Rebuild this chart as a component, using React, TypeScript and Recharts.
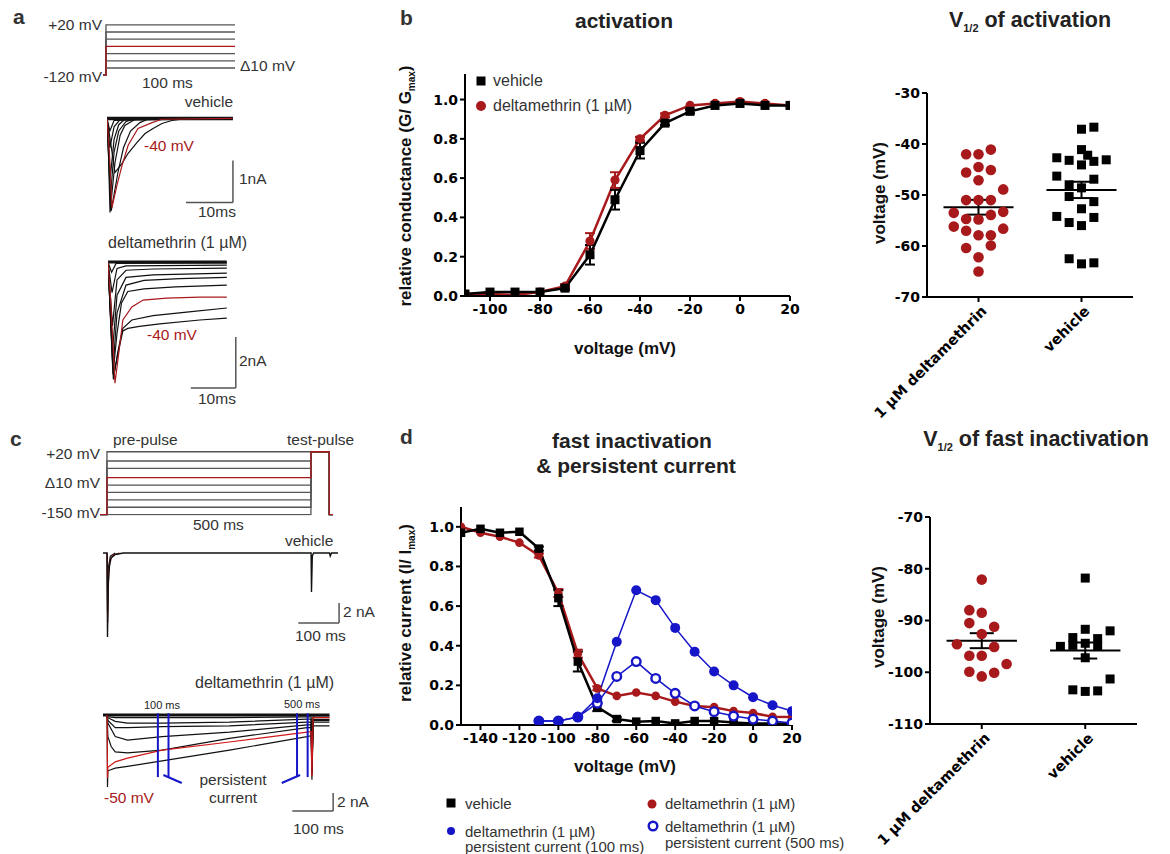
import React from "react";
import {
  LineChart,
  ComposedChart,
  ScatterChart,
  Line,
  Scatter,
  XAxis,
  YAxis,
  ErrorBar,
  ReferenceLine,
} from "recharts";

const SANS = '"Liberation Sans", Arial, sans-serif';
const TICK_FONT = '"DejaVu Sans", sans-serif';
const RED = "#a8191b";
const BLUE = "#1616c8";
const INK = "#333333";

// ---------- b: activation ----------
const actVoltage = [-110, -100, -90, -80, -70, -60, -50, -40, -30, -20, -10, 0, 10, 20];
const actVehicle = [0.01, 0.02, 0.02, 0.02, 0.04, 0.21, 0.49, 0.74, 0.88, 0.94, 0.97, 0.98, 0.97, 0.97];
const actVehicleErr = [0, 0, 0, 0, 0.01, 0.05, 0.05, 0.04, 0.01, 0.01, 0, 0, 0, 0];
const actDelta = [0.01, 0.01, 0.005, 0.02, 0.05, 0.28, 0.59, 0.8, 0.92, 0.97, 0.98, 0.99, 0.98, 0.97];
const actDeltaErr = [0, 0, 0, 0, 0.01, 0.04, 0.04, 0.01, 0.01, 0, 0, 0, 0, 0];

// ---------- d: fast inactivation & persistent current ----------
const inactVoltage = [-150, -140, -130, -120, -110, -100, -90, -80, -70, -60, -50, -40, -30, -20, -10, 0, 10, 20];
const inactVehicle = [0.97, 0.99, 0.97, 0.975, 0.89, 0.64, 0.32, 0.09, 0.03, 0.017, 0.02, 0.008, 0.02, 0.02, 0.013, 0.008, 0.008, 0.008];
const inactVehicleErr = [0, 0, 0, 0, 0.01, 0.04, 0.05, 0.02, 0.01, 0, 0, 0, 0, 0, 0, 0, 0, 0];
const inactDelta = [1.0, 0.97, 0.95, 0.92, 0.855, 0.666, 0.36, 0.185, 0.147, 0.164, 0.147, 0.118, 0.096, 0.09, 0.07, 0.06, 0.042, 0.04];
const inactDeltaErr = [0, 0, 0, 0, 0.01, 0.02, 0.02, 0.01, 0, 0, 0, 0, 0, 0, 0, 0, 0, 0];
const persistVoltage = [-110, -100, -90, -80, -70, -60, -50, -40, -30, -20, -10, 0, 10, 20];
const persist100 = [0.02, 0.02, 0.04, 0.135, 0.42, 0.68, 0.63, 0.49, 0.37, 0.27, 0.2, 0.14, 0.1, 0.07];
const persist500 = [0.02, 0.02, 0.04, 0.11, 0.245, 0.32, 0.235, 0.16, 0.096, 0.067, 0.045, 0.03, 0.02, 0.01];

// ---------- V1/2 scatter panels ----------
const groupNames = ["1 µM deltamethrin", "vehicle"];
const JIT = 0.12;
const MEAN_HALF = 0.34;

const actV12Delta = [-42, -42, -41.1, -45.6, -44.5, -45.1, -47.1, -48.9, -51, -51, -51, -53.5, -53.3, -54.7, -54.8, -53.9, -56.2, -56.6, -57, -57.9, -57.9, -60.4, -59.9, -62.2, -65];
const actV12DeltaCol = [-1, 0, 1, -1, 0, 1, 0, 2, -1, 0, 1, -2, 2, -1, 0, 1, -2, 2, -1, 0, 1, -1, 1, 0, 0];
const actV12Vehicle = [-37.1, -36.7, -42.7, -43.2, -41.1, -42.2, -44.1, -43.4, -43.1, -46.3, -48, -48.6, -46.9, -50.3, -51.3, -52.7, -54.2, -55.4, -56, -54.4, -62.5, -63.5, -63.3];
const actV12VehicleCol = [0, 1, -2, -1, 0, 0.5, 0, 1, 2, -2, -1, 0, 1, -1, 1, 0, -2, -1, 0, 1, -1, 0, 1];
const actV12Mean = [-52.4, -49.0];
const actV12Sem = [1.45, 1.6];

const inactV12Delta = [-82.1, -88, -88.5, -90.5, -91.2, -92.6, -94.6, -95.1, -96.8, -96.8, -98.4, -99.9, -100.1, -100.8];
const inactV12DeltaCol = [0, -1, 0, -1, 1, 0, -2, 1, -1, 0, 2, -1, 1, 0];
const inactV12Vehicle = [-81.8, -91.7, -92, -93.3, -93.5, -95, -94.8, -94.4, -95, -97.2, -101.3, -103.4, -103.7, -103.6];
const inactV12VehicleCol = [0, 0, 2, -1, 1, -2, -1, 0, 1, 0, 2, -1, 0, 1];
const inactV12Mean = [-93.9, -95.8];
const inactV12Sem = [1.45, 1.55];

// ---------- a / c: protocols and current traces ([time ms, value]) ----------
type Pt = [number, number];
const protoALevels = [20, 0, -20, -40, -60, -80, -100];
const protoAHold = -120;
const protoARed = -40;
const protoCLevels = [20, -5, -25, -50, -70, -90, -110, -130, -150];
const protoCHold = -150;
const protoCRed = -50;

const vehA1: Pt[] = [[0, 0], [0.3, -0.8], [0.64, -2.24], [1.7, -1.05], [2.8, -0.4], [3.8, -0.17], [6, -0.02], [26.8, 0]];
const vehA2: Pt[] = [[0, 0], [0.7, -1.9], [1.5, -0.8], [2.5, -0.3], [4, -0.08], [6, 0], [26.8, 0]];
const vehA3: Pt[] = [[0, 0], [0.7, -1.4], [1.5, -0.5], [2.5, -0.15], [4, 0], [26.8, 0]];
const vehA4: Pt[] = [[0, 0], [0.6, -0.7], [1.5, -0.2], [3, 0], [26.8, 0]];
const vehA5: Pt[] = [[0, 0], [0.6, -0.3], [1.5, -0.05], [26.8, 0]];
const vehA6: Pt[] = [[0, 0], [0.9, -2.2], [2.3, -1.3], [3.5, -0.7], [5, -0.3], [7, -0.1], [9, 0], [26.8, 0]];
const vehASlow: Pt[] = [[0, 0], [0.8, -0.6], [1.7, -1.29], [3.2, -1.07], [4.5, -0.83], [6.4, -0.57], [8.1, -0.36], [9.8, -0.24], [11.7, -0.12], [13.8, -0.05], [17, 0], [26.8, 0]];
const vehARed: Pt[] = [[0, 0], [0.5, -0.8], [1.06, -2.12], [2.1, -1.6], [3.2, -1.12], [4.5, -0.64], [6.6, -0.24], [9.6, -0.1], [11.7, -0.02], [26.8, 0]];
const vehABase: Pt[] = [[0, 0], [26.8, 0]];

const delA0: Pt[] = [[0, 0], [0.8, -0.4], [1.8, -0.05], [26.4, -0.03]];
const delA1: Pt[] = [[0, 0], [0.9, -1.2], [2, -0.25], [4, -0.15], [26.4, -0.12]];
const delA2: Pt[] = [[0, 0], [1.0, -2.5], [2, -0.7], [4, -0.32], [10, -0.27], [26.4, -0.24]];
const delA3: Pt[] = [[0, 0], [1.0, -3.5], [2, -1.3], [4, -0.6], [10, -0.5], [26.4, -0.43]];
const delA4: Pt[] = [[0, 0], [1.1, -4.2], [2, -2.0], [4, -0.9], [8, -0.72], [16, -0.65], [26.4, -0.6]];
const delA5: Pt[] = [[0, 0], [1.1, -4.4], [2, -2.8], [3, -1.6], [4.4, -1.15], [8, -1.05], [15, -0.97], [26.4, -0.9]];
const delA6: Pt[] = [[0, 0], [1.2, -4.6], [2.2, -3.5], [3.3, -2.6], [5.3, -2.27], [10, -2.1], [18, -1.95], [26.4, -1.8]];
const delA7: Pt[] = [[0, 0], [1.3, -4.4], [2.2, -3.6], [3.3, -2.7], [4.4, -2.6], [7, -2.52], [11.5, -2.42], [20.4, -2.27], [26.4, -2.2]];
const delARed: Pt[] = [[0, 0], [0.6, -1.5], [1.55, -4.75], [2.2, -3.84], [3.3, -2.27], [5.3, -1.76], [7.8, -1.49], [13, -1.41], [20.4, -1.37], [26.4, -1.37]];
const delABase: Pt[] = [[0, 0], [26.4, 0]];

const vehC1: Pt[] = [[-10, 0], [0, 0], [1, -8.4], [3, -3], [6, -1.2], [10, -0.5], [20, -0.15], [40, 0], [500, 0], [501, -3.9], [503, -0.3], [506, 0], [545, 0], [547, -0.3], [550, 0], [566, 0]];
const vehC2: Pt[] = [[0, 0], [1, -6], [3, -1.5], [8, -0.3], [20, 0]];
const vehCRed: Pt[] = [[0, 0], [1.5, -7], [4, -2], [8, -0.6], [15, -0.2], [30, 0]];

const delC1: Pt[] = [[0, 0], [2, -0.2], [20, -0.3], [135, -0.3], [300, -0.3], [490, -0.2], [500, -0.2], [502, -5], [505, -0.1], [545, -0.1]];
const delC2: Pt[] = [[0, 0], [2, -0.3], [20, -0.7], [50, -0.9], [135, -0.9], [300, -0.8], [490, -0.45], [500, -0.45], [502, -5.5], [505, -0.3], [545, -0.3]];
const delC3: Pt[] = [[0, 0], [2, -0.6], [20, -1.4], [50, -1.4], [135, -1.3], [300, -1.2], [490, -0.8], [500, -0.8], [502, -6], [505, -0.5], [545, -0.5]];
const delC4: Pt[] = [[0, 0], [2, -0.9], [20, -2.4], [50, -2.8], [135, -2.4], [300, -1.9], [490, -1.1], [500, -1.1], [502, -6.2], [505, -0.6], [545, -0.6]];
const delCKnee: Pt[] = [[0, 0], [2, -2.4], [10, -3.5], [20, -4.1], [50, -4.2], [135, -3.9], [300, -2.6], [490, -1.4], [500, -1.4], [502, -6.5], [505, -0.8], [545, -0.8]];
const delC7: Pt[] = [[-10, 0], [0, 0], [1, -8], [2, -6.2], [20, -5.9], [50, -5.7], [135, -5.1], [300, -3.9], [490, -2.4], [500, -2.3], [502, -7.2], [505, -1.2], [545, -1.2]];
const delCRed: Pt[] = [[0, 0], [1, -7], [2, -5.8], [20, -5.2], [50, -4.8], [135, -3.9], [300, -3.0], [490, -1.9], [500, -1.85], [502, -6.8], [505, -0.3], [545, -0.3]];
const delCBase: Pt[] = [[-10, 0], [545, 0]];

// ---------- helpers ----------
const AXIS = { stroke: "#000", strokeWidth: 2 };
const TICK = { fill: "#000", fontSize: 14, fontWeight: 700, fontFamily: TICK_FONT };

const rows = (xs: number[], ys: number[], es?: number[]) => xs.map((v, i) => ({ v, y: ys[i], e: es ? es[i] : 0 }));

const squareDot = (size: number, color: string) => (p: any) =>
  p.cx == null ? <g key={`s${p.index}`} /> : (
    <rect key={`s${p.index}`} x={p.cx - size / 2} y={p.cy - size / 2} width={size} height={size} fill={color} />
  );
const circleDot = (r: number, color: string, open = false) => (p: any) =>
  p.cx == null ? <g key={`c${p.index}`} /> : (
    <circle key={`c${p.index}`} cx={p.cx} cy={p.cy} r={r} fill={open ? "#fff" : color} stroke={color} strokeWidth={open ? 2.4 : 0} />
  );

interface ITxt {
  x: number;
  y: number;
  size?: number;
  color?: string;
  bold?: boolean;
  anchor?: "start" | "middle" | "end";
  children: React.ReactNode;
}
const Txt: React.FC<ITxt> = ({ x, y, size = 15.5, color = INK, bold = false, anchor = "start", children }) => {
  const tx = anchor === "start" ? "0" : anchor === "middle" ? "-50%" : "-100%";
  return (
    <div
      style={{
        position: "absolute",
        left: x,
        top: y,
        transform: `translate(${tx},-50%)`,
        fontSize: size,
        color,
        fontWeight: bold ? 700 : 400,
        fontFamily: SANS,
        whiteSpace: "nowrap",
        lineHeight: 1,
      }}
    >
      {children}
    </div>
  );
};
const RotTxt: React.FC<{ x: number; y: number; size?: number; children: React.ReactNode }> = ({ x, y, size = 17, children }) => (
  <div
    style={{
      position: "absolute",
      left: x,
      top: y,
      transform: "translate(-50%,-50%) rotate(-90deg)",
      fontSize: size,
      fontWeight: 700,
      fontFamily: SANS,
      color: "#111",
      whiteSpace: "nowrap",
      lineHeight: 1,
    }}
  >
    {children}
  </div>
);
const Mark: React.FC<{ x: number; y: number; kind: "square" | "dot" | "ring"; color: string; r?: number }> = ({ x, y, kind, color, r = 4.5 }) => (
  <svg style={{ position: "absolute", left: x - 7, top: y - 7 }} width={14} height={14}>
    {kind === "square" ? (
      <rect x={2.5} y={2.5} width={9} height={9} fill={color} />
    ) : kind === "ring" ? (
      <circle cx={7} cy={7} r={r} fill="#fff" stroke={color} strokeWidth={2.4} />
    ) : (
      <circle cx={7} cy={7} r={r} fill={color} />
    )}
  </svg>
);

interface ITrace {
  pts: Pt[];
  color?: string;
  width?: number;
}
interface ISeg {
  from: Pt;
  to: Pt;
  color?: string;
  width?: number;
}
interface ITracePanel {
  left: number;
  top: number;
  width: number;
  height: number;
  xDomain: [number, number];
  yDomain: [number, number];
  traces: ITrace[];
  segs?: ISeg[];
}
const TracePanel: React.FC<ITracePanel> = ({ left, top, width, height, xDomain, yDomain, traces, segs }) => (
  <div style={{ position: "absolute", left, top }}>
    <LineChart width={width} height={height} margin={{ top: 0, right: 0, bottom: 0, left: 0 }} style={{ overflow: "visible" }}>
      <XAxis type="number" dataKey="t" domain={xDomain} hide allowDataOverflow />
      <YAxis type="number" domain={yDomain} hide allowDataOverflow />
      {traces.map((tr, k) => (
        <Line
          key={k}
          data={tr.pts.map(([t, v]) => ({ t, v }))}
          dataKey="v"
          type="linear"
          stroke={tr.color ?? "#111"}
          strokeWidth={tr.width ?? 1.2}
          dot={false}
          activeDot={false}
          isAnimationActive={false}
        />
      ))}
      {(segs ?? []).map((s, k) => (
        <ReferenceLine
          key={`seg${k}`}
          segment={[{ x: s.from[0], y: s.from[1] }, { x: s.to[0], y: s.to[1] }]}
          stroke={s.color ?? "#444"}
          strokeWidth={s.width ?? 1.5}
          ifOverflow="visible"
        />
      ))}
    </LineChart>
  </div>
);

const protoA = (L: number): Pt[] => [[-2.3, protoAHold], [0, protoAHold], [0, L], [100, L]];
const protoC = (L: number): Pt[] => [[-17, protoCHold], [0, protoCHold], [0, L], [500, L], [500, 20], [545, 20], [545, protoCHold], [555, protoCHold]];

const SlantTick = (props: any) => {
  const { x, y, payload } = props;
  const px = x + 9;
  const py = y + 8;
  return (
    <text x={px} y={py} textAnchor="end" transform={`rotate(-45 ${px} ${py})`} fill="#000" fontSize={14.5} fontWeight={700} fontFamily={TICK_FONT}>
      {groupNames[payload.value - 1]}
    </text>
  );
};

interface IV12 {
  left: number;
  top: number;
  width: number;
  height: number;
  margin: { top: number; right: number; bottom: number; left: number };
  yWidth: number;
  xHeight: number;
  yDomain: [number, number];
  yTicks: number[];
  delta: number[];
  deltaCol: number[];
  vehicle: number[];
  vehicleCol: number[];
  mean: number[];
  sem: number[];
}
const V12Panel: React.FC<IV12> = (p) => {
  const deltaPts = p.delta.map((y, i) => ({ x: 1 + p.deltaCol[i] * JIT, y }));
  const vehiclePts = p.vehicle.map((y, i) => ({ x: 2 + p.vehicleCol[i] * JIT, y }));
  const means = p.mean.map((y, i) => ({ x: i + 1, y, sem: p.sem[i] }));
  return (
    <div style={{ position: "absolute", left: p.left, top: p.top }}>
      <ScatterChart width={p.width} height={p.height} margin={p.margin}>
        <XAxis
          type="number"
          dataKey="x"
          domain={[0.5, 2.5]}
          ticks={[1, 2]}
          interval={0}
          allowDataOverflow
          height={p.xHeight}
          axisLine={AXIS}
          tickLine={AXIS}
          tickSize={5}
          tick={(t: any) => <SlantTick {...t} />}
        />
        <YAxis
          type="number"
          dataKey="y"
          domain={p.yDomain}
          ticks={p.yTicks}
          allowDataOverflow
          width={p.yWidth}
          axisLine={AXIS}
          tickLine={AXIS}
          tickSize={5}
          tick={TICK}
        />
        <Scatter data={deltaPts} isAnimationActive={false} shape={(s: any) => <circle cx={s.cx} cy={s.cy} r={5.3} fill={RED} />} />
        <Scatter
          data={vehiclePts}
          isAnimationActive={false}
          shape={(s: any) => <rect x={s.cx - 4.5} y={s.cy - 4.5} width={9} height={9} fill="#000" />}
        />
        {means.map((m) => (
          <ReferenceLine
            key={`m${m.x}`}
            segment={[{ x: m.x - MEAN_HALF, y: m.y }, { x: m.x + MEAN_HALF, y: m.y }]}
            stroke="#000"
            strokeWidth={2}
          />
        ))}
        <Scatter data={means} isAnimationActive={false} shape={() => <g />}>
          <ErrorBar dataKey="sem" direction="y" width={12} stroke="#000" strokeWidth={2} />
        </Scatter>
      </ScatterChart>
    </div>
  );
};

export default function App() {
  return (
    <div style={{ position: "absolute", left: 0, top: 0, width: 1170, height: 854, background: "#fff", fontFamily: SANS }}>
      {/* ---------- panel a ---------- */}
      <TracePanel
        left={103}
        top={23.2}
        width={132}
        height={54}
        xDomain={[-2.3, 100]}
        yDomain={[-125, 25]}
        traces={[
          ...protoALevels.filter((L) => L !== protoARed).map((L) => ({ pts: protoA(L), color: "#555", width: 1.3 })),
          { pts: protoA(protoARed), color: RED, width: 1.3 },
        ]}
      />
      <TracePanel
        left={107}
        top={109.6}
        width={129}
        height={109.2}
        xDomain={[0, 27.45]}
        yDomain={[-2.4, 0.2]}
        traces={[
          { pts: vehABase, width: 3.5 },
          { pts: vehA5 },
          { pts: vehA4 },
          { pts: vehA3 },
          { pts: vehA2 },
          { pts: vehA1 },
          { pts: vehA6 },
          { pts: vehASlow },
          { pts: vehARed, color: RED },
        ]}
        segs={[
          { from: [26.8, -1.0], to: [26.8, -2.0], color: "#555" },
          { from: [16.8, -2.0], to: [26.8, -2.0], color: "#555" },
        ]}
      />
      <TracePanel
        left={108}
        top={256.9}
        width={130.5}
        height={135.2}
        xDomain={[0, 29]}
        yDomain={[-5.1, 0.2]}
        traces={[
          { pts: delABase, width: 3 },
          { pts: delA0 },
          { pts: delA1 },
          { pts: delA2 },
          { pts: delA3 },
          { pts: delA4 },
          { pts: delA5 },
          { pts: delA6 },
          { pts: delA7 },
          { pts: delARed, color: RED },
        ]}
        segs={[
          { from: [28.4, -2.94], to: [28.4, -4.94], color: "#555" },
          { from: [18.4, -4.94], to: [28.4, -4.94], color: "#555" },
        ]}
      />
      <Txt x={13} y={16} size={21} bold color="#333">a</Txt>
      <Txt x={102} y={25} anchor="end">+20 mV</Txt>
      <Txt x={102} y={77} anchor="end">-120 mV</Txt>
      <Txt x={142} y={83}>100 ms</Txt>
      <Txt x={240} y={66}>Δ10 mV</Txt>
      <Txt x={233} y={102} anchor="end">vehicle</Txt>
      <Txt x={144} y={146} color={RED}>-40 mV</Txt>
      <Txt x={239} y={179}>1nA</Txt>
      <Txt x={198} y={212}>10ms</Txt>
      <Txt x={108} y={243} size={16}>deltamethrin (1 µM)</Txt>
      <Txt x={147} y={335} color={RED}>-40 mV</Txt>
      <Txt x={239} y={361}>2nA</Txt>
      <Txt x={198} y={399}>10ms</Txt>

      {/* ---------- panel c ---------- */}
      <TracePanel
        left={100}
        top={451.3}
        width={233.4}
        height={64.4}
        xDomain={[-17, 555]}
        yDomain={[-152, 22]}
        traces={[
          ...protoCLevels.filter((L) => L !== protoCRed).map((L) => ({ pts: protoC(L), color: "#555", width: 1.3 })),
          { pts: protoC(protoCRed), color: RED, width: 1.3 },
        ]}
      />
      <TracePanel
        left={103}
        top={546}
        width={238.7}
        height={97}
        xDomain={[-10, 575]}
        yDomain={[-9, 0.7]}
        traces={[{ pts: vehC2 }, { pts: vehCRed, color: RED }, { pts: vehC1, width: 1.4 }]}
        segs={[
          { from: [568.6, -5], to: [568.6, -7], color: "#555" },
          { from: [468.6, -7], to: [568.6, -7], color: "#555" },
        ]}
      />
      <TracePanel
        left={103}
        top={706}
        width={232.6}
        height={108}
        xDomain={[-10, 560]}
        yDomain={[-11, 1]}
        traces={[
          { pts: delCBase, width: 3 },
          { pts: delC1 },
          { pts: delC2 },
          { pts: delC3 },
          { pts: delC4 },
          { pts: delCKnee },
          { pts: delC7 },
          { pts: delCRed, color: "#d01818" },
        ]}
        segs={[
          { from: [124.5, 0.2], to: [124.5, -6.9], color: BLUE, width: 2 },
          { from: [150.5, 0.2], to: [150.5, -6.9], color: BLUE, width: 2 },
          { from: [465.5, 0.2], to: [465.5, -6.9], color: BLUE, width: 2 },
          { from: [491.5, 0.2], to: [491.5, -6.9], color: BLUE, width: 2 },
          { from: [138, -6.67], to: [183, -7.56], color: BLUE, width: 2 },
          { from: [428, -7.56], to: [473, -6.67], color: BLUE, width: 2 },
          { from: [554, -8.67], to: [554, -10.67], color: "#555" },
          { from: [454, -10.67], to: [554, -10.67], color: "#555" },
        ]}
      />
      <Txt x={10} y={438} size={21} bold color="#333">c</Txt>
      <Txt x={113} y={440}>pre-pulse</Txt>
      <Txt x={287} y={440}>test-pulse</Txt>
      <Txt x={100} y={454} anchor="end">+20 mV</Txt>
      <Txt x={100} y={483} anchor="end">Δ10 mV</Txt>
      <Txt x={100} y={513} anchor="end">-150 mV</Txt>
      <Txt x={193} y={525}>500 ms</Txt>
      <Txt x={285} y={541}>vehicle</Txt>
      <Txt x={343} y={612}>2 nA</Txt>
      <Txt x={295} y={636}>100 ms</Txt>
      <Txt x={195} y={683} size={16}>deltamethrin (1 µM)</Txt>
      <Txt x={162} y={705} size={11} anchor="middle" color="#222">100 ms</Txt>
      <Txt x={302} y={704} size={11} anchor="middle" color="#222">500 ms</Txt>
      <Txt x={233} y={780} anchor="middle">persistent</Txt>
      <Txt x={233} y={798} anchor="middle">current</Txt>
      <Txt x={104} y={798} color={RED}>-50 mV</Txt>
      <Txt x={337} y={802}>2 nA</Txt>
      <Txt x={293} y={829}>100 ms</Txt>

      {/* ---------- panel b ---------- */}
      <div style={{ position: "absolute", left: 400, top: 60 }}>
        <ComposedChart width={410} height={300} margin={{ top: 14, right: 20, bottom: 34, left: 0 }}>
          <XAxis
            type="number"
            dataKey="v"
            domain={[-110, 20]}
            ticks={[-100, -80, -60, -40, -20, 0, 20]}
            allowDataOverflow
            height={30}
            axisLine={AXIS}
            tickLine={AXIS}
            tickSize={5}
            tickMargin={3}
            tick={TICK}
          />
          <YAxis
            type="number"
            domain={[0, 1.13]}
            ticks={[0, 0.2, 0.4, 0.6, 0.8, 1.0]}
            tickFormatter={(v: number) => v.toFixed(1)}
            allowDataOverflow
            width={65}
            axisLine={AXIS}
            tickLine={AXIS}
            tickSize={5}
            tick={TICK}
          />
          <Line
            data={rows(actVoltage, actDelta, actDeltaErr)}
            dataKey="y"
            type="linear"
            stroke={RED}
            strokeWidth={2.5}
            dot={circleDot(4.6, RED)}
            activeDot={false}
            isAnimationActive={false}
          >
            <ErrorBar dataKey="e" width={5} stroke={RED} strokeWidth={2} />
          </Line>
          <Line
            data={rows(actVoltage, actVehicle, actVehicleErr)}
            dataKey="y"
            type="linear"
            stroke="#000"
            strokeWidth={2.5}
            dot={squareDot(9, "#000")}
            activeDot={false}
            isAnimationActive={false}
          >
            <ErrorBar dataKey="e" width={5} stroke="#000" strokeWidth={2} />
          </Line>
        </ComposedChart>
      </div>
      <Txt x={400} y={17} size={21} bold color="#333">b</Txt>
      <Txt x={624} y={20} size={21} bold color="#222" anchor="middle">activation</Txt>
      <Mark x={481} y={81} kind="square" color="#000" />
      <Txt x={493} y={81} size={16}>vehicle</Txt>
      <Mark x={481} y={106} kind="dot" color={RED} r={5} />
      <Txt x={493} y={106} size={16}>deltamethrin (1 µM)</Txt>
      <RotTxt x={407} y={186}>
        relative conductance (G/ G<sub style={{ fontSize: 10 }}>max</sub>)
      </RotTxt>
      <Txt x={625} y={348} size={17} bold color="#111" anchor="middle">voltage (mV)</Txt>

      {/* ---------- panel d ---------- */}
      <div style={{ position: "absolute", left: 400, top: 480 }}>
        <ComposedChart width={412} height={290} margin={{ top: 27, right: 20, bottom: 15, left: 0 }}>
          <XAxis
            type="number"
            dataKey="v"
            domain={[-150, 20]}
            ticks={[-140, -120, -100, -80, -60, -40, -20, 0, 20]}
            allowDataOverflow
            height={30}
            axisLine={AXIS}
            tickLine={AXIS}
            tickSize={5}
            tickMargin={3}
            tick={TICK}
          />
          <YAxis
            type="number"
            domain={[0, 1.1]}
            ticks={[0, 0.2, 0.4, 0.6, 0.8, 1.0]}
            tickFormatter={(v: number) => v.toFixed(1)}
            allowDataOverflow
            width={61}
            axisLine={AXIS}
            tickLine={AXIS}
            tickSize={5}
            tick={TICK}
          />
          <Line
            data={rows(inactVoltage, inactDelta, inactDeltaErr)}
            dataKey="y"
            type="linear"
            stroke={RED}
            strokeWidth={2.5}
            dot={circleDot(4.3, RED)}
            activeDot={false}
            isAnimationActive={false}
          >
            <ErrorBar dataKey="e" width={5} stroke={RED} strokeWidth={2} />
          </Line>
          <Line
            data={rows(inactVoltage, inactVehicle, inactVehicleErr)}
            dataKey="y"
            type="linear"
            stroke="#000"
            strokeWidth={2.5}
            dot={squareDot(8.5, "#000")}
            activeDot={false}
            isAnimationActive={false}
          >
            <ErrorBar dataKey="e" width={5} stroke="#000" strokeWidth={2} />
          </Line>
          <Line
            data={rows(persistVoltage, persist500)}
            dataKey="y"
            type="linear"
            stroke={BLUE}
            strokeWidth={1.5}
            dot={circleDot(4.3, BLUE, true)}
            activeDot={false}
            isAnimationActive={false}
          />
          <Line
            data={rows(persistVoltage, persist100)}
            dataKey="y"
            type="linear"
            stroke={BLUE}
            strokeWidth={1.5}
            dot={circleDot(5, BLUE)}
            activeDot={false}
            isAnimationActive={false}
          />
        </ComposedChart>
      </div>
      <Txt x={400} y={436} size={21} bold color="#333">d</Txt>
      <Txt x={632} y={440} size={21} bold color="#222" anchor="middle">fast inactivation</Txt>
      <Txt x={636} y={465} size={21} bold color="#222" anchor="middle">&amp; persistent current</Txt>
      <RotTxt x={407} y={613}>
        relative current (I/ I<sub style={{ fontSize: 10 }}>max</sub>)
      </RotTxt>
      <Txt x={625} y={766} size={17} bold color="#111" anchor="middle">voltage (mV)</Txt>
      <Mark x={451} y={803} kind="square" color="#000" />
      <Txt x={465} y={803} size={15}>vehicle</Txt>
      <Mark x={652} y={804} kind="dot" color={RED} r={4.5} />
      <Txt x={665} y={803} size={15}>deltamethrin (1 µM)</Txt>
      <Mark x={451} y={831} kind="dot" color={BLUE} r={4} />
      <Txt x={465} y={831} size={15}>deltamethrin (1 µM)</Txt>
      <Txt x={465} y={846} size={15}>persistent current (100 ms)</Txt>
      <Mark x={653} y={826} kind="ring" color={BLUE} r={4.3} />
      <Txt x={665} y={826} size={15}>deltamethrin (1 µM)</Txt>
      <Txt x={665} y={842} size={15}>persistent current (500 ms)</Txt>

      {/* ---------- V1/2 panels ---------- */}
      <V12Panel
        left={850}
        top={60}
        width={300}
        height={370}
        margin={{ top: 33, right: 17, bottom: 13, left: 0 }}
        yWidth={77}
        xHeight={120}
        yDomain={[-70, -30]}
        yTicks={[-70, -60, -50, -40, -30]}
        delta={actV12Delta}
        deltaCol={actV12DeltaCol}
        vehicle={actV12Vehicle}
        vehicleCol={actV12VehicleCol}
        mean={actV12Mean}
        sem={actV12Sem}
      />
      <Txt x={1030} y={22} size={21.5} bold color="#222" anchor="middle">
        V<sub style={{ fontSize: 11 }}>1/2</sub> of activation
      </Txt>
      <RotTxt x={879} y={193}>voltage (mV)</RotTxt>

      <V12Panel
        left={850}
        top={480}
        width={300}
        height={374}
        margin={{ top: 37, right: 13, bottom: 20, left: 0 }}
        yWidth={80}
        xHeight={110}
        yDomain={[-110, -70]}
        yTicks={[-110, -100, -90, -80, -70]}
        delta={inactV12Delta}
        deltaCol={inactV12DeltaCol}
        vehicle={inactV12Vehicle}
        vehicleCol={inactV12VehicleCol}
        mean={inactV12Mean}
        sem={inactV12Sem}
      />
      <Txt x={1036} y={441} size={21.5} bold color="#222" anchor="middle">
        V<sub style={{ fontSize: 11 }}>1/2</sub> of fast inactivation
      </Txt>
      <RotTxt x={878} y={617}>voltage (mV)</RotTxt>
    </div>
  );
}
